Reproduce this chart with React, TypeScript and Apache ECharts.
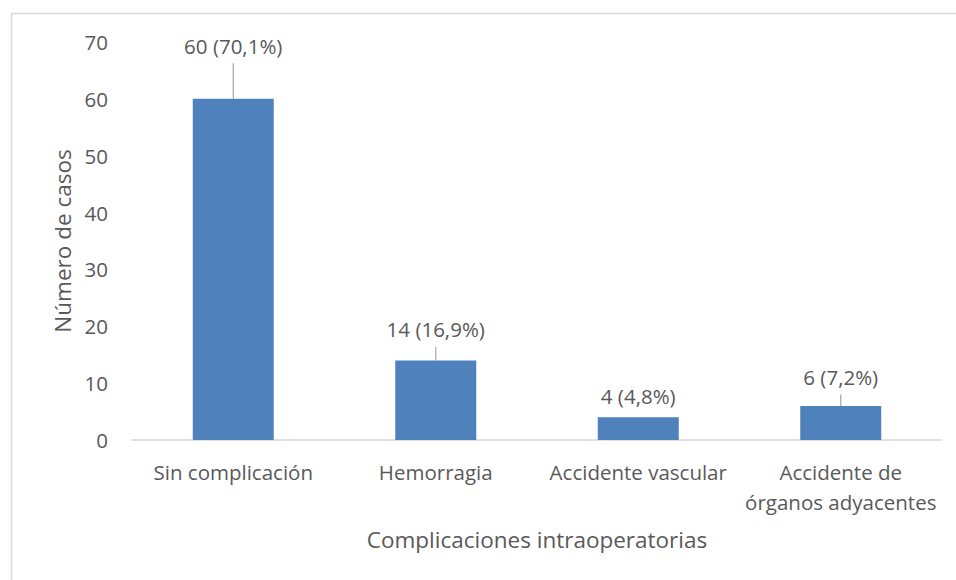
import React, { useEffect, useRef } from "react";
import * as echarts from "echarts";

const categories = [
  "Sin complicación",
  "Hemorragia",
  "Accidente vascular",
  "Accidente de\nórganos adyacentes",
];
const cases = [60, 14, 4, 6];
const percents = ["70,1", "16,9", "4,8", "7,2"];
const yTicks = { min: 0, max: 70, interval: 10 };

// label placement (pixels above bar top); a leader line is drawn when there is room
const labelLift = [53, 31, 21, 29];
const FONT = "'Open Sans', sans-serif";
const TEXT = "#595959";

export default function App() {
  const ref = useRef<HTMLDivElement>(null);
  useEffect(() => {
    const chart = echarts.init(ref.current!, null, { renderer: "svg" });
    chart.setOption({
      animation: false,
      textStyle: { fontFamily: FONT },
      graphic: [
        {
          type: "rect",
          shape: { x: 11.5, y: 13.5, width: 1000, height: 1000 },
          style: { fill: "none", stroke: "#D9D9D9", lineWidth: 1.5 },
          silent: true,
          z: -10,
        },
      ],
      grid: { left: 132, right: 14, top: 42, bottom: 140 },
      xAxis: {
        type: "category",
        data: categories,
        axisLine: { lineStyle: { color: "#D9D9D9", width: 1.5 } },
        axisTick: { show: false },
        axisLabel: {
          color: TEXT,
          fontSize: 20.5,
          lineHeight: 30,
          margin: 17,
          fontFamily: FONT,
          interval: 0,
        },
        name: "Complicaciones intraoperatorias",
        nameLocation: "middle",
        nameGap: 88,
        nameTextStyle: { color: TEXT, fontSize: 22.5, fontFamily: FONT },
      },
      yAxis: {
        type: "value",
        min: yTicks.min,
        max: yTicks.max,
        interval: yTicks.interval,
        splitLine: { show: false },
        axisLine: { show: false },
        axisTick: { show: false },
        axisLabel: { color: TEXT, fontSize: 20.5, margin: 24, fontFamily: FONT },
        name: "Número de casos",
        nameLocation: "middle",
        nameGap: 58,
        nameRotate: 90,
        nameTextStyle: { color: TEXT, fontSize: 22.5, fontFamily: FONT },
      },
      series: [
        {
          type: "bar",
          data: cases,
          barWidth: "40%",
          itemStyle: { color: "#4F81BD" },
        },
        {
          type: "custom",
          data: cases.map((v, i) => [i, v]),
          z: 5,
          renderItem: (params: any, api: any) => {
            const i = params.dataIndex;
            const pt = api.coord([api.value(0), api.value(1)]);
            const lift = labelLift[i];
            const children: any[] = [
              {
                type: "text",
                style: {
                  x: pt[0],
                  y: pt[1] - lift,
                  text: `${cases[i]} (${percents[i]}%)`,
                  fill: TEXT,
                  font: `20.5px ${FONT}`,
                  align: "center",
                  verticalAlign: "middle",
                },
              },
            ];
            if (lift > 25) {
              children.push({
                type: "line",
                shape: { x1: pt[0], y1: pt[1] - lift + 17.5, x2: pt[0], y2: pt[1] },
                style: { stroke: "#A6A6A6", lineWidth: 1.2 },
              });
            }
            return { type: "group", children };
          },
        },
      ],
    });
    return () => chart.dispose();
  }, []);
  return (
    <div
      ref={ref}
      style={{ position: "fixed", left: 0, top: 0, width: 956, height: 580, background: "#fff" }}
    />
  );
}
